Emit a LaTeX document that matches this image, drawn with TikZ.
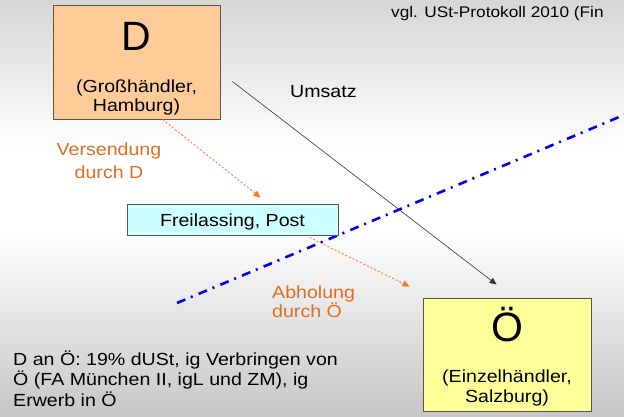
\documentclass[tikz,border=0pt]{standalone}
\usepackage{fontspec}
\setmainfont[FakeStretch=1.12]{Liberation Sans}
\newfontfamily\bigletters{Liberation Sans}
\usetikzlibrary{arrows.meta,calc}
\definecolor{peach}{HTML}{FFCC99}
\definecolor{paleyellow}{HTML}{FFFF99}
\definecolor{palecyan}{HTML}{CCFFFF}
\definecolor{labelorange}{RGB}{222,110,34}
\definecolor{arroworange}{RGB}{255,112,40}
\definecolor{borderline}{RGB}{90,84,78}
\definecolor{bordertop}{RGB}{214,214,214}
\definecolor{borderbottom}{RGB}{198,198,198}
\tikzset{
  party/.style={draw=borderline, line width=0.9pt, inner sep=0pt},
  txt/.style={inner sep=0pt, anchor=base, font=\fontsize{17.5}{20}\selectfont},
  big/.style={inner sep=0pt, anchor=base, font=\bigletters\fontsize{41}{41}\selectfont},
  flow/.style={arroworange, line width=0.8pt, dash pattern=on 2pt off 2pt,
    -{Triangle[length=7pt,width=6pt]}},
  trade/.style={black!80, line width=0.6pt, -{Triangle[length=7pt,width=6pt]}},
  border/.style={blue!95!black, line width=2.6pt,
    dash pattern=on 9pt off 6pt on 2pt off 6.5pt}
}
\begin{document}
\begin{tikzpicture}[x=1pt,y=-1pt]
  \useasboundingbox (0,0) rectangle (624,416);
  \clip (0,0) rectangle (624,416);
  % background: grey at the top, white in the middle, grey again at the bottom
  \shade[top color=bordertop, bottom color=white] (0,0) rectangle (624,150);
  \fill[white] (0,149.5) rectangle (624,230.5);
  \shade[top color=white, bottom color=borderbottom] (0,230) rectangle (624,416);

  % customs border
  \draw[border] (177,303) -- (650,104);

  % parties
  \node[party, fill=peach, minimum width=167pt, minimum height=114pt] (Dbox) at (136.5,62) {};
  \node[big] (Dletter) at (136.5,50) {D};
  \node[txt] (Dname1) at (136.5,92) {(Großhändler,};
  \node[txt] (Dname2) at (136.5,111) {Hamburg)};

  \node[party, fill=paleyellow, minimum width=168pt, minimum height=113pt] (Obox) at (507,354.5) {};
  \node[big] (Oletter) at (507,341) {Ö};
  \node[txt] (Oname1) at (507,382) {(Einzelhändler,};
  \node[txt] (Oname2) at (507,402) {Salzburg)};

  \node[party, fill=palecyan, minimum width=211pt, minimum height=31pt] (Fbox) at (232.5,219.5) {};
  \node[txt] (Ftext) at (232.5,226) {Freilassing, Post};

  % movements of the goods
  \draw[flow] ([xshift=110pt]Dbox.south west) -- ([xshift=134pt,yshift=6pt]Fbox.north west);
  \draw[flow] ([xshift=183pt,yshift=-2pt]Fbox.south west) -- ([xshift=-13pt,yshift=11pt]Obox.north west);
  % the supply itself
  \draw[trade] ([xshift=12pt,yshift=-77pt]Dbox.north east) -- ([xshift=74pt,yshift=13pt]Obox.north west);

  % labels
  \node[txt, anchor=base west] (umsatz) at (290,97) {Umsatz};
  \node[txt, anchor=base, text=labelorange] (vers1) at (109,155) {Versendung};
  \node[txt, anchor=base, text=labelorange] (vers2) at (109,178) {durch D};
  \node[txt, anchor=base west, text=labelorange] (abh1) at (272,298) {Abholung};
  \node[txt, anchor=base west, text=labelorange] (abh2) at (272,317) {durch Ö};

  \node[inner sep=0pt, anchor=base west, font=\fontsize{15.4}{17}\selectfont] (ref) at (391,17)
    {vgl. USt-Protokoll 2010 (Fin};

  \node[txt, anchor=base west] (note1) at (13,365) {D an Ö: 19\% dUSt, ig Verbringen von};
  \node[txt, anchor=base west] (note2) at (13,385) {Ö (FA München II, igL und ZM), ig};
  \node[txt, anchor=base west] (note3) at (13,406) {Erwerb in Ö};
\end{tikzpicture}
\end{document}
